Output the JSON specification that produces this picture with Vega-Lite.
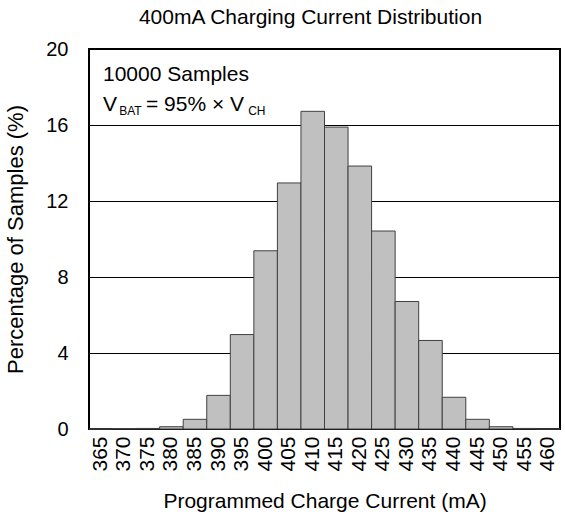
{
  "$schema": "https://vega.github.io/schema/vega-lite/v6.json",
  "autosize": {"type": "none"},
  "padding": {"left": 89, "top": 49, "right": 5, "bottom": 87},
  "width": 471,
  "height": 380,
  "background": "white",
  "config": {
    "font": "Liberation Sans",
    "view": {"stroke": "black", "strokeWidth": 2},
    "axis": {"labelColor": "black", "titleColor": "black", "titleFontWeight": "normal"}
  },
  "title": {
    "text": "400mA Charging Current Distribution",
    "fontSize": 21,
    "fontWeight": "normal",
    "color": "black",
    "anchor": "middle",
    "offset": 11,
    "dx": -14
  },
  "layer": [
    {
      "data": {
        "values": [
          {"current": 365, "pct": 0},
          {"current": 370, "pct": 0.02},
          {"current": 375, "pct": 0.03},
          {"current": 380, "pct": 0.12},
          {"current": 385, "pct": 0.51},
          {"current": 390, "pct": 1.77},
          {"current": 395, "pct": 4.97},
          {"current": 400, "pct": 9.38},
          {"current": 405, "pct": 12.95},
          {"current": 410, "pct": 16.72},
          {"current": 415, "pct": 15.89},
          {"current": 420, "pct": 13.84},
          {"current": 425, "pct": 10.42},
          {"current": 430, "pct": 6.71},
          {"current": 435, "pct": 4.66},
          {"current": 440, "pct": 1.67},
          {"current": 445, "pct": 0.51},
          {"current": 450, "pct": 0.12},
          {"current": 455, "pct": 0.03},
          {"current": 460, "pct": 0}
        ]
      },
      "mark": {"type": "bar", "fill": "#c0c0c0", "stroke": "#404040", "strokeWidth": 1},
      "encoding": {
        "x": {
          "field": "current",
          "type": "ordinal",
          "sort": "ascending",
          "scale": {"paddingInner": 0, "paddingOuter": 0},
          "axis": {
            "title": "Programmed Charge Current (mA)",
            "titleFontSize": 21,
            "titlePadding": 19,
            "labelFontSize": 21,
            "labelAngle": -90,
            "labelPadding": 7,
            "ticks": false,
            "domain": false
          }
        },
        "y": {
          "field": "pct",
          "type": "quantitative",
          "scale": {"domain": [0, 20], "nice": false},
          "axis": {
            "title": "Percentage of Samples (%)",
            "titleFontSize": 22,
            "titlePadding": 18,
            "labelFontSize": 20,
            "labelPadding": 21,
            "values": [0, 4, 8, 12, 16, 20],
            "ticks": false,
            "domain": false,
            "grid": true,
            "gridColor": "black",
            "gridOpacity": 1,
            "gridWidth": 1
          }
        }
      }
    },
    {
      "data": {
        "values": [
          {"t": "10000 Samples", "x": 365.47, "y": 18.32},
          {"t": "V", "x": 365.47, "y": 16.74},
          {"t": "= 95% × V", "x": 374.6, "y": 16.74}
        ]
      },
      "mark": {"type": "text", "align": "left", "baseline": "alphabetic", "fontSize": 21, "color": "black"},
      "encoding": {
        "x": {"field": "x", "type": "quantitative", "scale": {"domain": [362.5, 462.5], "nice": false, "zero": false}, "axis": null},
        "y": {"field": "y", "type": "quantitative", "scale": {"domain": [0, 20], "nice": false}},
        "text": {"field": "t"}
      }
    },
    {
      "data": {
        "values": [
          {"t": "BAT", "x": 368.9, "y": 16.55},
          {"t": "CH", "x": 396.3, "y": 16.55}
        ]
      },
      "mark": {"type": "text", "align": "left", "baseline": "alphabetic", "fontSize": 12, "color": "black"},
      "encoding": {
        "x": {"field": "x", "type": "quantitative", "scale": {"domain": [362.5, 462.5], "nice": false, "zero": false}, "axis": null},
        "y": {"field": "y", "type": "quantitative", "scale": {"domain": [0, 20], "nice": false}},
        "text": {"field": "t"}
      }
    }
  ],
  "resolve": {"scale": {"x": "independent"}}
}
